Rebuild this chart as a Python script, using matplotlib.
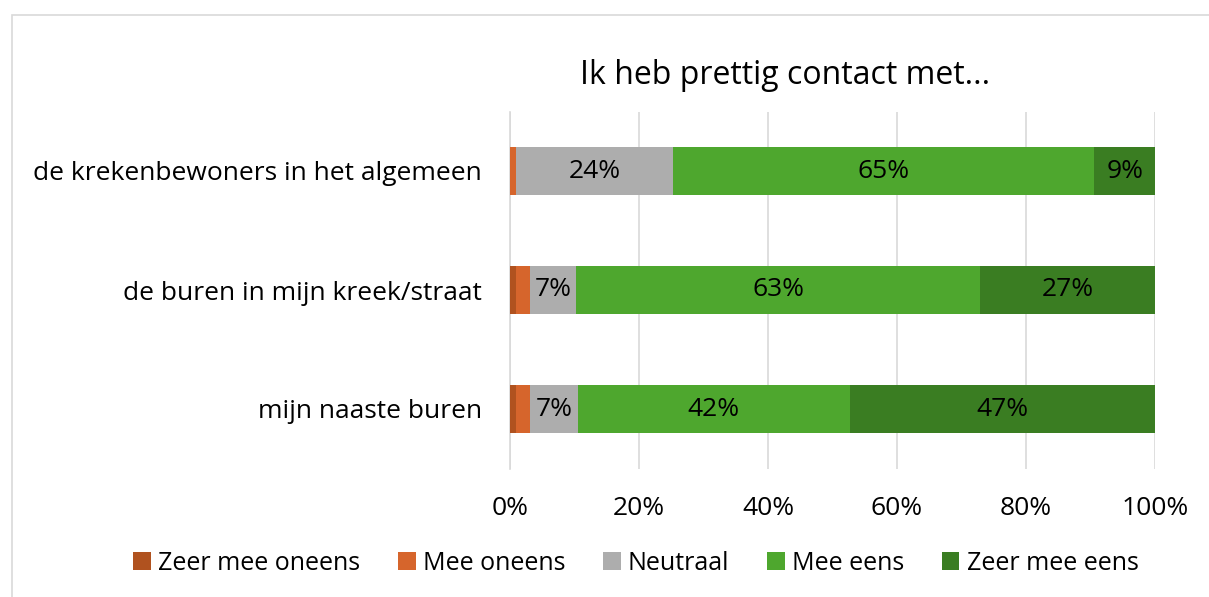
import matplotlib.pyplot as plt
from matplotlib.patches import Rectangle

plt.rcParams['font.family'] = ['Open Sans', 'DejaVu Sans']

categories = ["mijn naaste buren", "de buren in mijn kreek/straat",
              "de krekenbewoners in het algemeen"]
series = ["Zeer mee oneens", "Mee oneens", "Neutraal", "Mee eens", "Zeer mee eens"]
values = {
    "Zeer mee oneens": [0.9, 0.9, 0.0],
    "Mee oneens": [2.2, 2.2, 1.0],
    "Neutraal": [7.4, 7.2, 24.3],
    "Mee eens": [42.2, 62.6, 65.3],
    "Zeer mee eens": [47.3, 27.1, 9.4],
}
labelled = ["Neutraal", "Mee eens", "Zeer mee eens"]
colors = ["#B0521F", "#D6652C", "#ADADAD", "#4EA72E", "#3A7D22"]
xticks = [0, 20, 40, 60, 80, 100]

fig = plt.figure(figsize=(12.09, 5.97), dpi=100)
fig.patches.append(Rectangle((12 / 1209, -0.1), 1.1, 1 - 15 / 597 + 0.1,
                             transform=fig.transFigure, fill=False,
                             edgecolor="#D9D9D9", linewidth=1.2))
ax = fig.add_axes([510 / 1209, 1 - 468.5 / 597, 645 / 1209, 357 / 597])

y = range(len(categories))
left = [0.0] * len(categories)
for name, col in zip(series, colors):
    vals = values[name]
    ax.barh(y, vals, left=left, height=0.4, color=col, label=name, zorder=3)
    if name in labelled:
        for i, v in enumerate(vals):
            ax.text(left[i] + v / 2, i, f"{v:.0f}%", ha="center", va="center",
                    fontsize=19, color="black", zorder=4)
    left = [l + v for l, v in zip(left, vals)]

ax.set_xlim(0, 100)
ax.set_ylim(-0.5, 2.5)
ax.set_xticks(xticks)
ax.set_xticklabels([f"{t}%" for t in xticks], fontsize=19)
ax.set_yticks(list(y))
ax.set_yticklabels(categories, fontsize=19)
ax.tick_params(length=0, pad=20, axis="y")
ax.tick_params(length=0, pad=20, axis="x")
ax.grid(axis="x", color="#D9D9D9", linewidth=1.2, zorder=0)
for s in ["top", "right", "bottom"]:
    ax.spines[s].set_visible(False)
ax.spines["left"].set_color("#D9D9D9")
ax.spines["left"].set_linewidth(1.2)

fig.text(785 / 1209, 1 - 75 / 597, "Ik heb prettig contact met...", ha="center",
         va="center", fontsize=23)

fig.legend(loc="center", bbox_to_anchor=(636 / 1209, 1 - 563 / 597), ncol=5,
           frameon=False, fontsize=18, handlelength=0.7, handleheight=0.7,
           handletextpad=0.3, columnspacing=1.5)

fig.savefig("out.png", dpi=100)
